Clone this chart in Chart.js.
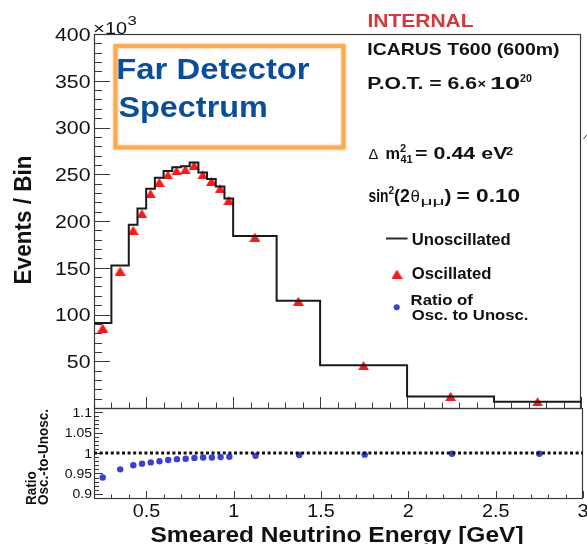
<!DOCTYPE html>
<html>
<head>
<meta charset="utf-8">
<title>Far Detector Spectrum</title>
<script src="https://cdn.jsdelivr.net/npm/chart.js@4.4.1/dist/chart.umd.min.js"></script>
<style>
  html, body { margin: 0; padding: 0; background: #fff; }
  #wrap { position: relative; width: 587px; height: 544px; overflow: hidden; background: #fff; }
  #wrap canvas { position: absolute; left: 0; top: 0; }
</style>
</head>
<body>
<div id="wrap">
  <canvas id="spec" width="587" height="544"></canvas>
  <canvas id="ratio" width="587" height="544"></canvas>
</div>
<script>
// Smeared neutrino energy binning [GeV]
const binEdges = [0.2, 0.3, 0.4, 0.45, 0.5, 0.55, 0.6, 0.65, 0.7, 0.75, 0.8, 0.85, 0.9, 0.95, 1.0, 1.25, 1.5, 2.0, 2.5, 3.0];
// Events per bin (x10^3)
const unoscillated = [91, 152.5, 196, 213.5, 234.5, 246.3, 253.5, 257.5, 258.5, 262.5, 252, 245, 237, 224, 184, 114.8, 45.6, 12.4, 6.7];
const oscillated   = [85.5, 146.4, 190.1, 207.9, 229.1, 241.4, 249.2, 253.6, 254.9, 259.4, 249.2, 242.3, 234.6, 222, 182.7, 114.2, 45.4, 12.4, 6.7];
// Oscillated / unoscillated per bin
const ratio = [0.940, 0.960, 0.970, 0.974, 0.977, 0.980, 0.983, 0.985, 0.986, 0.988, 0.989, 0.989, 0.990, 0.991, 0.993, 0.995, 0.996, 0.998, 0.998];
const ratioReference = 1;

// Axis ranges and tick labels
const energyRange = [0.2, 3.0];
const eventRange = [0, 400];
const ratioRange = [0.89, 1.11];
const energyTicks = [0.5, 1, 1.5, 2, 2.5, 3];
const energyTickLabels = ['0.5', '1', '1.5', '2', '2.5', '3'];
const eventTicks = [50, 100, 150, 200, 250, 300, 350, 400];
const eventTickLabels = ['50', '100', '150', '200', '250', '300', '350', '400'];
const ratioTicks = [0.9, 0.95, 1, 1.05, 1.1];
const ratioTickLabels = ['0.9', '0.95', '1', '1.05', '1.1'];

const SANS = '"Liberation Sans", Arial, Helvetica, sans-serif';
const AXIS = '#3a3a3a';
const INK = '#111111';
const RED = '#f41b1b';
const BLUE = '#3c3fd4';

function setFont(ctx, size, weight) { ctx.font = `${weight} ${size}px ${SANS}`; }

// text squeezed/stretched so that its ink spans x0..x1
function fitText(ctx, str, x0, x1, base, size, weight, color) {
  ctx.save();
  setFont(ctx, size, weight);
  ctx.fillStyle = color; ctx.textAlign = 'left'; ctx.textBaseline = 'alphabetic';
  const m = ctx.measureText(str);
  const ink = m.actualBoundingBoxLeft + m.actualBoundingBoxRight;
  ctx.translate(x0, base);
  ctx.scale((x1 - x0) / ink, 1);
  ctx.fillText(str, m.actualBoundingBoxLeft, 0);
  ctx.restore();
}

// text with a fixed horizontal stretch
function wideText(ctx, str, x, base, size, weight, color, align, sx) {
  ctx.save();
  setFont(ctx, size, weight);
  ctx.fillStyle = color; ctx.textAlign = align; ctx.textBaseline = 'alphabetic';
  ctx.translate(x, base);
  ctx.scale(sx, 1);
  ctx.fillText(str, 0, 0);
  ctx.restore();
}

// text reading bottom-to-top, baseline at xBase
function upText(ctx, str, xBase, y, size, weight, color, align, sx) {
  ctx.save();
  setFont(ctx, size, weight);
  ctx.fillStyle = color; ctx.textAlign = align; ctx.textBaseline = 'alphabetic';
  ctx.translate(xBase, y);
  ctx.scale(sx, 1);
  ctx.rotate(-Math.PI / 2);
  ctx.fillText(str, 0, 0);
  ctx.restore();
}

function line(ctx, x1, y1, x2, y2) {
  ctx.beginPath(); ctx.moveTo(x1, y1); ctx.lineTo(x2, y2); ctx.stroke();
}

// upward filled triangle marker, centred on its bounding box
function triangleMarker(w, h, color) {
  const c = document.createElement('canvas');
  c.width = w; c.height = h;
  const g = c.getContext('2d');
  g.fillStyle = color;
  g.beginPath(); g.moveTo(w / 2, 0); g.lineTo(w, h); g.lineTo(0, h); g.closePath(); g.fill();
  return c;
}
const triangle = triangleMarker(11, 9, RED);

// frame with inward ticks: minor and major on the left and bottom edges
function drawFrame(ctx, area, xs, ys, yMinor, yTicks, yLen, xLen) {
  ctx.save();
  ctx.strokeStyle = AXIS;
  ctx.lineWidth = 1.2;
  ctx.strokeRect(area.left + 0.5, area.top + 0.5, area.right - area.left - 1, area.bottom - area.top);
  ctx.lineWidth = 1;
  const [ymin, ymax] = [ys.min, ys.max];
  for (let v = Math.ceil(ymin / yMinor - 1e-9) * yMinor; v <= ymax + 1e-9; v += yMinor) {
    const py = Math.round(ys.getPixelForValue(v)) + 0.5;
    line(ctx, area.left, py, area.left + yLen[0], py);
  }
  yTicks.forEach(v => {
    const py = Math.round(ys.getPixelForValue(v)) + 0.5;
    line(ctx, area.left, py, area.left + yLen[1], py);
  });
  for (let v = 0.2; v <= 3.0001; v += 0.1) {
    const px = Math.round(xs.getPixelForValue(v)) + 0.5;
    line(ctx, px, area.bottom, px, area.bottom - xLen[0]);
  }
  energyTicks.forEach(v => {
    const px = Math.round(xs.getPixelForValue(v)) + 0.5;
    line(ctx, px, area.bottom, px, area.bottom - xLen[1]);
  });
  ctx.restore();
}

const centers = binEdges.slice(0, -1).map((e, i) => (e + binEdges[i + 1]) / 2);
const stepPoints = binEdges.map((e, i) => ({ x: e, y: unoscillated[Math.min(i, unoscillated.length - 1)] }));

const spectrumDecor = {
  id: 'spectrumDecor',
  beforeDatasetsDraw(chart) {
    const { ctx, chartArea, scales } = chart;
    drawFrame(ctx, chartArea, scales.x, scales.y, 10, eventTicks, [8, 16], [5.5, 11]);
  },
  afterDraw(chart) {
    const { ctx, scales } = chart;
    const y = scales.y;
    // y tick labels and exponent
    eventTicks.forEach((v, i) => {
      wideText(ctx, eventTickLabels[i], 90.5, y.getPixelForValue(v) + 6.8, 19, 'normal', INK, 'right', 1.12);
    });
    fitText(ctx, '\u00d710', 94.5, 126.5, 33.5, 17, 'normal', INK);
    fitText(ctx, '3', 127.5, 136.5, 25, 13, 'normal', INK);
    upText(ctx, 'Events / Bin', 31, 220, 22.5, 'bold', INK, 'center', 1.05);

    // detector and oscillation parameters
    fitText(ctx, 'INTERNAL', 368.5, 474, 26.7, 19, 'bold', '#d0393e');
    fitText(ctx, 'ICARUS T600 (600m)', 368.5, 559, 55, 16.3, 'bold', INK);
    fitText(ctx, 'P.O.T. = 6.6', 368.5, 476.5, 89.3, 16.8, 'bold', INK);
    fitText(ctx, '\u00d7', 477.5, 486, 88, 12, 'bold', INK);
    fitText(ctx, '10', 491.5, 519.5, 89.3, 16.8, 'bold', INK);
    fitText(ctx, '20', 520, 531.5, 81.5, 11.5, 'bold', INK);

    fitText(ctx, '\u0394', 368.5, 378, 158.8, 15.5, 'normal', INK);
    fitText(ctx, 'm', 386.5, 400, 159.3, 17, 'bold', INK);
    fitText(ctx, '2', 400, 406, 152, 11, 'bold', INK);
    fitText(ctx, '41', 400.5, 412.5, 163.3, 11, 'bold', INK);
    fitText(ctx, '= 0.44 eV', 415, 508.5, 159.3, 16.8, 'bold', INK);
    fitText(ctx, '2', 506, 513, 155, 11, 'bold', INK);

    fitText(ctx, 'sin', 368.5, 388, 201.7, 17.5, 'bold', INK);
    fitText(ctx, '2', 388.5, 394, 193.5, 11, 'bold', INK);
    fitText(ctx, '(2', 394, 410, 201.7, 17.5, 'bold', INK);
    fitText(ctx, '\u03b8', 410.5, 420, 201.7, 16, 'normal', INK);
    fitText(ctx, '\u03bc\u03bc', 420.5, 443.5, 205, 11.5, 'normal', INK);
    fitText(ctx, ')', 444.5, 450.5, 201.7, 17.5, 'bold', INK);
    fitText(ctx, '= 0.10', 456.5, 520.5, 201.7, 17.5, 'bold', INK);

    // legend
    ctx.save();
    ctx.strokeStyle = '#2a2a2a'; ctx.lineWidth = 2;
    line(ctx, 386, 238.5, 407.5, 238.5);
    ctx.drawImage(triangle, 397 - triangle.width / 2, 274 - triangle.height / 2);
    ctx.fillStyle = BLUE;
    ctx.beginPath(); ctx.arc(396.7, 307.3, 3, 0, Math.PI * 2); ctx.fill();
    ctx.restore();
    fitText(ctx, 'Unoscillated', 411.7, 510, 244.5, 16, 'bold', INK);
    fitText(ctx, 'Oscillated', 411.7, 490.7, 279, 16, 'bold', INK);
    fitText(ctx, 'Ratio of', 411.7, 474, 305, 15, 'bold', INK);
    fitText(ctx, 'Osc. to Unosc.', 411.7, 528.3, 320, 15, 'bold', INK);

    // small stray stroke on the right border
    ctx.save();
    ctx.strokeStyle = '#444'; ctx.lineWidth = 1;
    line(ctx, 583.5, 139, 587, 134.5);
    ctx.restore();

    // boxed caption with a soft orange border
    ctx.save();
    ctx.fillStyle = '#ffffff';
    ctx.fillRect(115.5, 46, 228, 101.5);
    ctx.shadowColor = 'rgba(246, 165, 70, 0.8)';
    ctx.shadowBlur = 3;
    ctx.strokeStyle = '#f7ab52';
    ctx.lineWidth = 4;
    ctx.strokeRect(115.5, 46, 228, 101.5);
    ctx.restore();
    fitText(ctx, 'Far Detector', 118.5, 310, 79, 30, 'bold', '#0c4d9b');
    fitText(ctx, 'Spectrum', 118.5, 266, 116.7, 30, 'bold', '#0c4d9b');
  }
};

const ratioDecor = {
  id: 'ratioDecor',
  beforeDatasetsDraw(chart) {
    const { ctx, chartArea, scales } = chart;
    drawFrame(ctx, chartArea, scales.x, scales.y, 0.01, ratioTicks, [5, 9], [3.5, 7]);
  },
  afterDraw(chart) {
    const { ctx, scales } = chart;
    ratioTicks.forEach((v, i) => {
      wideText(ctx, ratioTickLabels[i], 92, scales.y.getPixelForValue(v) + 4.5, 12.5, 'normal', INK, 'right', 1.12);
    });
    energyTicks.forEach((v, i) => {
      wideText(ctx, energyTickLabels[i], scales.x.getPixelForValue(v), 517, 18, 'normal', INK, 'center', 1.1);
    });
    fitText(ctx, 'Smeared Neutrino Energy [GeV]', 150.5, 523, 542, 22.5, 'bold', INK);
    ctx.save();
    ctx.beginPath(); ctx.rect(0, 408.5, 94, 136); ctx.clip();
    upText(ctx, 'Ratio', 35.5, 505, 13.5, 'bold', INK, 'left', 1.05);
    upText(ctx, 'Osc.-to-Unosc.', 47.5, 505, 13.5, 'bold', INK, 'left', 1.05);
    ctx.restore();
  }
};

const common = {
  responsive: false,
  animation: false,
  devicePixelRatio: 1,
  events: [],
  plugins: { legend: { display: false }, tooltip: { enabled: false } }
};

new Chart(document.getElementById('spec'), {
  type: 'line',
  data: {
    datasets: [
      {
        label: 'Unoscillated',
        data: stepPoints,
        stepped: 'before',
        borderColor: '#1a1a1a',
        borderWidth: 2,
        pointRadius: 0,
        fill: false
      },
      {
        label: 'Oscillated',
        data: centers.map((c, i) => ({ x: c, y: oscillated[i] })),
        showLine: false,
        pointStyle: triangle,
        pointRadius: 5,
        clip: false
      }
    ]
  },
  options: Object.assign({}, common, {
    layout: { padding: { left: 94, right: 4, top: 34, bottom: 136 } },
    scales: {
      x: { type: 'linear', min: energyRange[0], max: energyRange[1], display: false },
      y: { type: 'linear', min: eventRange[0], max: eventRange[1], display: false }
    }
  }),
  plugins: [spectrumDecor]
});

new Chart(document.getElementById('ratio'), {
  type: 'line',
  data: {
    datasets: [
      {
        label: 'Unity',
        data: [{ x: energyRange[0], y: ratioReference }, { x: energyRange[1], y: ratioReference }],
        borderColor: '#111111',
        borderWidth: 3,
        borderDash: [3, 2.6],
        pointRadius: 0,
        fill: false
      },
      {
        label: 'Ratio of Osc. to Unosc.',
        data: centers.map((c, i) => ({ x: c, y: ratio[i] })),
        showLine: false,
        pointStyle: 'circle',
        pointRadius: 3.2,
        backgroundColor: BLUE,
        borderColor: BLUE,
        borderWidth: 0,
        clip: false
      }
    ]
  },
  options: Object.assign({}, common, {
    layout: { padding: { left: 94, right: 4, top: 408, bottom: 46 } },
    scales: {
      x: { type: 'linear', min: energyRange[0], max: energyRange[1], display: false },
      y: { type: 'linear', min: ratioRange[0], max: ratioRange[1], display: false }
    }
  }),
  plugins: [ratioDecor]
});
</script>
</body>
</html>
